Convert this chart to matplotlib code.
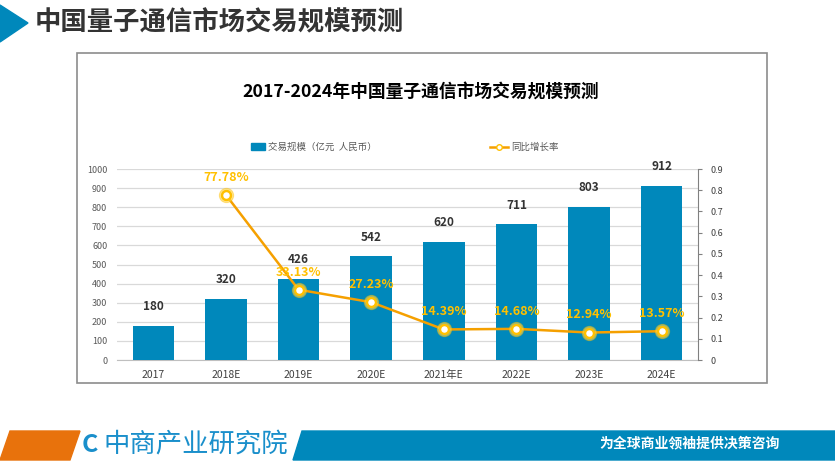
import matplotlib
matplotlib.use("Agg")
import matplotlib.pyplot as plt
from matplotlib.patches import Polygon, Rectangle
from matplotlib.lines import Line2D

plt.rcParams['font.family'] = ['Noto Sans CJK SC', 'DejaVu Sans']

categories = ["2017", "2018E", "2019E", "2020E", "2021年E", "2022E", "2023E", "2024E"]
scale = [180, 320, 426, 542, 620, 711, 803, 912]
growth = [None, 0.7778, 0.3313, 0.2723, 0.1439, 0.1468, 0.1294, 0.1357]
growth_labels = ["", "77.78%", "33.13%", "27.23%", "14.39%", "14.68%", "12.94%", "13.57%"]
left_ticks = [0, 100, 200, 300, 400, 500, 600, 700, 800, 900, 1000]
right_ticks = [0, 0.1, 0.2, 0.3, 0.4, 0.5, 0.6, 0.7, 0.8, 0.9]
right_tick_labels = ["0", "0.1", "0.2", "0.3", "0.4", "0.5", "0.6", "0.7", "0.8", "0.9"]

W, H = 835, 465
fig = plt.figure(figsize=(W / 100, H / 100), dpi=100)
fig.patch.set_facecolor("white")

def fx(x):
    return x / W

def fy(y):
    return 1 - y / H

BLUE = "#0088BB"
ORANGE = "#F5A000"
GOLD = "#FFC000"

# Header
fig.patches.append(Polygon([(fx(0), fy(5)), (fx(0), fy(42)), (fx(28), fy(23))],
                           closed=True, transform=fig.transFigure, color=BLUE))
fig.text(fx(35), fy(23), "中国量子通信市场交易规模预测", fontsize=19, fontweight="bold",
         color="#333333", va="center", ha="left")

# Chart frame
fig.patches.append(Rectangle((fx(77), fy(383)), fx(767) - fx(77), fy(53) - fy(383),
                             transform=fig.transFigure, fill=False, edgecolor="#8C8C8C", lw=1.2))
fig.text(fx(421), fy(92), "2017-2024年中国量子通信市场交易规模预测", fontsize=12.8,
         fontweight="bold", color="#000000", ha="center", va="center")

# Axes
ax = fig.add_axes([fx(117), fy(360), fx(698) - fx(117), fy(169) - fy(360)])
x = list(range(len(categories)))
ax.bar(x, scale, width=0.57, color=BLUE, zorder=3)
ax.set_xlim(-0.5, len(categories) - 0.5)
ax.set_ylim(0, 1000)
ax.set_yticks(left_ticks)
ax.tick_params(axis="y", length=0, labelsize=6.5, labelcolor="#595959", pad=7)
ax.set_xticks(x)
ax.set_xticklabels(categories)
ax.tick_params(axis="x", length=0, labelsize=7.5, labelcolor="#404040", pad=7)
ax.grid(axis="y", color="#D9D9D9", lw=0.9, zorder=0)
for s in ["left", "top", "right"]:
    ax.spines[s].set_visible(False)
ax.spines["bottom"].set_color("#BFBFBF")
for xi, v in zip(x, scale):
    ax.annotate(str(v), (xi, v), xytext=(0, 9), textcoords="offset points",
                ha="center", va="bottom", fontsize=8.5, fontweight="bold", color="#333333", zorder=6)

ax2 = ax.twinx()
ax2.set_ylim(0, 0.9)
ax2.set_yticks(right_ticks)
ax2.set_yticklabels(right_tick_labels)
ax2.tick_params(axis="y", length=3, color="#808080", labelsize=6.5, labelcolor="#404040", pad=6)
for s in ["left", "top", "bottom"]:
    ax2.spines[s].set_visible(False)
ax2.spines["right"].set_color("#808080")
gx = [xi for xi, g in zip(x, growth) if g is not None]
gy = [g for g in growth if g is not None]
ax2.plot(gx, gy, color=ORANGE, lw=1.8, zorder=4)
ax2.plot(gx, gy, linestyle="none", marker="o", markersize=10, markerfacecolor="#FFE680",
         markeredgecolor=GOLD, alpha=0.5, zorder=5)
ax2.plot(gx, gy, linestyle="none", marker="o", markersize=6.5, markerfacecolor="white",
         markeredgecolor=GOLD, markeredgewidth=1.8, zorder=6)
for xi, g, lab in zip(x, growth, growth_labels):
    if g is None:
        continue
    ax2.annotate(lab, (xi, g), xytext=(0, 8), textcoords="offset points", ha="center",
                 va="bottom", fontsize=9, fontweight="bold", color=GOLD, zorder=7)

# Legend
fig.patches.append(Rectangle((fx(251), fy(150)), fx(14), fy(143) - fy(150),
                             transform=fig.transFigure, color=BLUE))
fig.text(fx(268), fy(147), "交易规模（亿元  人民币）", fontsize=6.8, color="#595959", va="center")
fig.lines.append(Line2D([fx(490), fx(508)], [fy(147), fy(147)], transform=fig.transFigure,
                        color=ORANGE, lw=1.8))
fig.lines.append(Line2D([fx(499)], [fy(147)], transform=fig.transFigure, marker="o",
                        markersize=4, markerfacecolor="white", markeredgecolor=GOLD, lw=0))
fig.text(fx(511), fy(147), "同比增长率", fontsize=6.8, color="#595959", va="center")

# Footer
fig.patches.append(Polygon([(fx(0), fy(460)), (fx(10), fy(431)), (fx(80), fy(431)), (fx(70), fy(460))],
                           closed=True, transform=fig.transFigure, color="#E8720C"))
fig.patches.append(Polygon([(fx(293), fy(460)), (fx(302), fy(431)), (fx(835), fy(431)), (fx(835), fy(460))],
                           closed=True, transform=fig.transFigure, color=BLUE))
fig.text(fx(82), fy(445), "C", fontsize=18, fontweight="bold", color="#1A8FCB", va="center", ha="left")
fig.text(fx(103), fy(445), "中商产业研究院", fontsize=19, color="#1A8FCB", va="center", ha="left")
fig.text(fx(690), fy(443), "为全球商业领袖提供决策咨询", fontsize=10, fontweight="bold",
         color="white", va="center", ha="center")

fig.savefig("out.png", dpi=100)
